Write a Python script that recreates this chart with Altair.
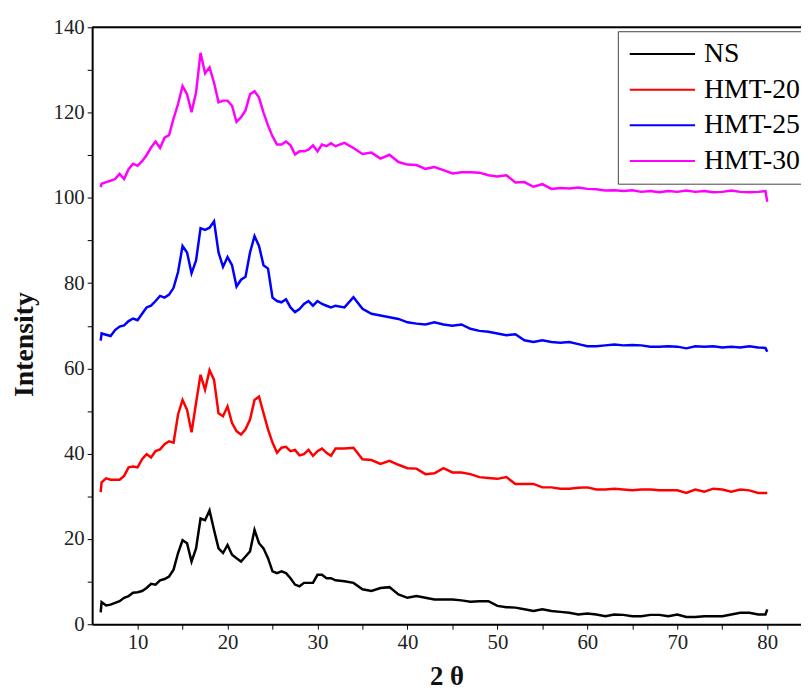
import altair as alt
import pandas as pd

# 2-theta sampling positions
two_theta = [5.9, 6.0, 6.5, 7.0, 7.5, 8.0, 8.5, 9.0, 9.5, 10.0, 10.5, 11.0, 11.5, 12.0, 12.5,
             13.0, 13.5, 14.0, 14.5, 15.0, 15.5, 16.0, 16.5, 17.0, 17.5, 18.0, 18.5, 19.0,
             19.5, 20.0, 20.5, 21.0, 21.5, 22.0, 22.5, 23.0, 23.5, 24.0, 24.5, 25.0, 25.5,
             26.0, 26.5, 27.0, 27.5, 28.0, 28.5, 29.0, 29.5, 30.0, 30.5, 31.0, 31.5, 32.0,
             33, 34, 35, 36, 37, 38, 39, 40, 41, 42, 43, 44, 45, 46, 47, 48, 49, 50, 51, 52,
             53, 54, 55, 56, 57, 58, 59, 60, 61, 62, 63, 64, 65, 66, 67, 68, 69, 70, 71, 72,
             73, 74, 75, 76, 77, 78, 79, 79.8, 80.0]

ns = [2.8, 5.2, 4.4, 4.6, 5.0, 5.4, 6.2, 6.6, 7.4, 7.5, 7.8, 8.5, 9.5, 9.3, 10.3, 10.6, 11.2,
      12.8, 16.7, 19.7, 19.0, 14.7, 17.8, 24.8, 24.4, 26.7, 22.1, 17.8, 16.7, 18.6, 16.3, 15.5,
      14.7, 15.9, 17.1, 22.1, 19.0, 17.8, 15.5, 12.4, 12.0, 12.4, 12.0, 10.8, 9.3, 8.9, 9.7,
      9.7, 9.7, 11.6, 11.6, 10.8, 10.8, 10.3,
      10.1, 9.7, 8.2, 7.8, 8.5, 8.7, 7.0, 6.2, 6.6, 6.2, 5.8, 5.8, 5.8, 5.6, 5.3, 5.4, 5.4,
      4.3, 4.0, 3.9, 3.5, 3.1, 3.5, 3.1, 2.9, 2.7, 2.3, 2.5, 2.3, 1.9, 2.3, 2.2, 1.9, 1.9,
      2.2, 2.2, 1.9, 2.3, 1.7, 1.7, 1.9, 1.9, 1.9, 2.3, 2.7, 2.7, 2.3, 2.3, 3.5]

hmt20 = [31.0, 33.3, 34.2, 33.9, 33.9, 33.9, 34.8, 36.8, 37.0, 36.8, 38.7, 39.9, 39.1, 40.6,
         41.0, 42.2, 42.9, 42.6, 49.2, 52.6, 50.3, 45.0, 51.9, 58.5, 55.0, 59.6, 57.3, 49.5,
         48.8, 51.1, 47.2, 45.3, 44.5, 45.7, 48.0, 52.6, 53.4, 49.5, 45.7, 42.6, 40.2, 41.4,
         41.6, 40.6, 40.9, 39.6, 39.9, 40.9, 39.5, 40.6, 41.2, 40.2, 39.5, 41.2,
         41.2, 41.4, 38.7, 38.5, 37.6, 38.3, 37.4, 36.6, 36.5, 35.2, 35.4, 36.6, 35.6, 35.6,
         35.2, 34.5, 34.3, 34.1, 34.5, 32.9, 32.9, 32.9, 32.1, 32.1, 31.8, 31.8, 32.0, 32.1,
         31.6, 31.6, 31.8, 31.6, 31.4, 31.6, 31.6, 31.4, 31.4, 31.4, 30.8, 31.6, 31.1, 31.8,
         31.6, 31.1, 31.6, 31.4, 30.8, 30.8, 30.8]

hmt25 = [66.5, 68.2, 67.9, 67.6, 69.0, 69.8, 70.1, 71.1, 71.7, 71.3, 72.8, 74.3, 74.7, 75.8,
         77.0, 76.6, 77.3, 78.9, 82.6, 88.7, 87.2, 82.3, 85.3, 92.9, 92.5, 93.0, 94.5, 87.2,
         83.8, 86.1, 84.2, 79.2, 80.8, 81.5, 87.2, 91.0, 88.7, 84.2, 83.4, 76.6, 75.8, 75.5,
         76.2, 74.3, 73.2, 73.9, 75.1, 75.8, 74.7, 75.8, 75.1, 74.7, 74.3, 74.7,
         74.3, 76.7, 74.0, 72.8, 72.4, 72.0, 71.6, 70.8, 70.5, 70.3, 70.8, 70.3, 70.0, 70.3,
         69.3, 68.8, 68.6, 68.2, 67.8, 68.0, 66.6, 66.2, 66.6, 66.2, 66.0, 66.2, 65.7, 65.2,
         65.2, 65.4, 65.6, 65.4, 65.5, 65.4, 65.1, 65.1, 65.2, 65.1, 64.7, 65.2, 65.1, 65.2,
         64.9, 65.1, 64.9, 65.2, 64.9, 64.8, 63.9]

hmt30 = [102.5, 103.3, 103.7, 104.0, 104.4, 105.6, 104.4, 106.7, 108.0, 107.5, 108.6, 110.0,
         111.8, 113.2, 111.7, 114.1, 114.7, 118.6, 122.0, 126.2, 124.3, 120.1, 124.7, 134.0,
         129.2, 130.6, 127.0, 122.4, 122.8, 122.8, 121.6, 117.8, 118.9, 120.5, 124.3, 125.0,
         123.5, 120.0, 117.0, 114.4, 112.5, 112.5, 113.2, 112.3, 110.2, 110.9, 110.9, 111.3,
         112.3, 110.9, 112.5, 112.1, 112.8, 112.1,
         112.9, 111.7, 110.3, 110.6, 109.2, 110.1, 108.4, 107.8, 107.7, 106.8, 107.2, 106.5,
         105.7, 106.0, 106.0, 105.9, 105.3, 105.0, 105.3, 103.6, 103.7, 102.6, 103.2, 102.1,
         102.3, 102.2, 102.4, 102.1, 102.0, 101.7, 101.8, 101.6, 101.8, 101.4, 101.6, 101.3,
         101.6, 101.4, 101.7, 101.4, 101.6, 101.3, 101.4, 101.7, 101.4, 101.3, 101.4, 101.6,
         99.1]

series_names = ["NS", "HMT-20", "HMT-25", "HMT-30"]
series_colors = ["#000000", "#ff0000", "#0000ff", "#ff00ff"]
series_values = [ns, hmt20, hmt25, hmt30]

x_ticks = [10, 15, 20, 25, 30, 35, 40, 45, 50, 55, 60, 65, 70, 75, 80]
y_ticks = [0, 10, 20, 30, 40, 50, 60, 70, 80, 90, 100, 110, 120, 130, 140]

rows = []
for name, vals in zip(series_names, series_values):
    assert len(vals) == len(two_theta), (name, len(vals), len(two_theta))
    for xv, yv in zip(two_theta, vals):
        rows.append({"two_theta": xv, "intensity": yv, "series": name})
df = pd.DataFrame(rows)

FONT = "Liberation Serif"

x_enc = alt.X(
    "two_theta:Q",
    scale=alt.Scale(domain=[4.95, 83.75], nice=False, zero=False),
    axis=alt.Axis(
        values=x_ticks,
        labelExpr="datum.value % 10 == 0 ? datum.label : ''",
        title="2 θ",
        titleFont=FONT, titleFontSize=27, titleFontWeight="bold", titleColor="#111",
        titleY=61, titleBaseline="alphabetic",
        labelFont=FONT, labelFontSize=21, labelColor="#222", labelPadding=3,
        domainColor="#000", domainWidth=2, tickColor="#000", tickSize=5, tickWidth=1,
        grid=False,
    ),
)
y_enc = alt.Y(
    "intensity:Q",
    scale=alt.Scale(domain=[0, 140], nice=False),
    axis=alt.Axis(
        values=y_ticks,
        labelExpr="datum.value % 20 == 0 ? datum.label : ''",
        title="Intensity",
        titleFont=FONT, titleFontSize=28, titleFontWeight="bold", titleColor="#111",
        titleX=-60, titleY=320, titleBaseline="alphabetic", titleAlign="center",
        labelFont=FONT, labelFontSize=21, labelColor="#222", labelPadding=3,
        domainColor="#000", domainWidth=2, tickColor="#000", tickSize=5, tickWidth=1,
        grid=False,
    ),
)

lines = alt.Chart(df).mark_line(strokeWidth=2.5).encode(
    x=x_enc,
    y=y_enc,
    color=alt.Color(
        "series:N",
        scale=alt.Scale(domain=series_names, range=series_colors),
        sort=series_names,
        legend=alt.Legend(
            title=None, orient="none", legendX=531, legendY=4,
            symbolType="M-1,0L5,0", symbolSize=484, symbolStrokeWidth=2,
            labelFont=FONT, labelFontSize=28, labelColor="#000", labelOffset=50,
            labelLimit=400, rowPadding=8, padding=9,
            strokeColor="#444", fillColor="#ffffff",
        ),
    ),
)

top_line = alt.Chart(pd.DataFrame({"k": [0]})).mark_rule(color="#000", strokeWidth=2).encode(
    y=alt.datum(140)
)

chart = alt.layer(lines, top_line).properties(
    width=716,
    height=603,
    autosize=alt.AutoSizeParams(type="none"),
    padding={"left": 85, "top": 16, "right": 0, "bottom": 68},
).configure_view(stroke=None).configure(background="white")

chart.save("out.html", embed_options={"renderer": "svg", "actions": False})
